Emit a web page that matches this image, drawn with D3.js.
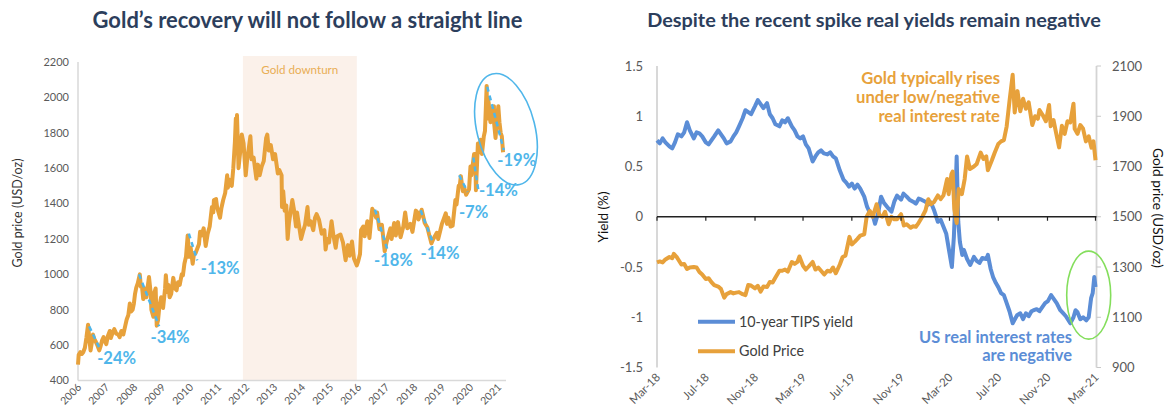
<!DOCTYPE html>
<meta charset="utf-8">
<head>
  <style>
    body { margin:0; background:#fff; }
    svg text { font-family: Lato, "Open Sans", sans-serif; }
  </style>
  <script src="https://d3js.org/d3.v7.min.js"></script>
</head>
<body>
<svg width="1166" height="409"></svg>
<script>
// ---- left chart data: gold price USD/oz ----
var goldLong = [
  ["2006-01-01",490],["2006-01-10",545],["2006-02-01",560],["2006-02-20",550],["2006-03-10",560],["2006-04-01",585],["2006-04-20",640],["2006-05-12",715],["2006-05-25",650],["2006-06-14",570],["2006-07-01",615],["2006-07-15",660],["2006-08-01",635],["2006-08-20",620],["2006-09-10",600],["2006-10-05",570],["2006-10-20",590],["2006-11-10",625],["2006-12-01",645],["2006-12-20",620],
  ["2007-01-05",605],["2007-01-25",650],["2007-02-20",680],["2007-03-05",640],["2007-03-25",665],["2007-04-20",690],["2007-05-15",665],["2007-06-10",660],["2007-06-28",645],["2007-07-20",680],["2007-08-15",660],["2007-09-10",710],["2007-09-28",745],["2007-10-20",770],["2007-11-08",835],["2007-11-25",790],["2007-12-15",800],["2007-12-31",835],
  ["2008-01-15",890],["2008-01-31",925],["2008-02-20",950],["2008-03-17",1000],["2008-03-31",930],["2008-04-15",930],["2008-05-01",860],["2008-05-20",920],["2008-06-10",870],["2008-07-15",985],["2008-08-05",900],["2008-08-15",800],["2008-09-10",760],["2008-09-25",900],["2008-10-10",920],["2008-10-24",710],["2008-11-10",740],["2008-11-28",820],["2008-12-20",870],
  ["2009-01-15",810],["2009-02-10",920],["2009-02-20",995],["2009-03-10",900],["2009-03-25",940],["2009-04-10",870],["2009-05-01",890],["2009-05-28",980],["2009-06-20",920],["2009-07-10",910],["2009-07-28",955],["2009-08-20",940],["2009-09-15",1000],["2009-10-01",995],["2009-10-20",1060],["2009-11-10",1100],["2009-12-02",1220],["2009-12-20",1100],
  ["2010-01-10",1150],["2010-02-05",1060],["2010-02-20",1110],["2010-03-15",1120],["2010-04-10",1150],["2010-04-28",1170],["2010-05-12",1240],["2010-06-01",1220],["2010-06-28",1260],["2010-07-25",1160],["2010-08-20",1230],["2010-09-15",1270],["2010-10-14",1380],["2010-11-01",1350],["2010-11-09",1420],["2010-12-07",1425],["2010-12-20",1380],
  ["2011-01-28",1320],["2011-02-15",1375],["2011-03-10",1420],["2011-04-05",1460],["2011-05-01",1560],["2011-05-10",1490],["2011-06-01",1535],["2011-06-30",1500],["2011-07-20",1600],["2011-08-10",1750],["2011-08-22",1880],["2011-08-26",1700],["2011-09-06",1900],["2011-09-26",1600],["2011-10-15",1680],["2011-11-08",1790],["2011-12-01",1740],["2011-12-29",1560],
  ["2012-01-15",1640],["2012-02-28",1780],["2012-03-15",1650],["2012-04-10",1660],["2012-05-16",1540],["2012-06-05",1620],["2012-06-28",1560],["2012-07-25",1610],["2012-08-20",1640],["2012-09-20",1770],["2012-10-05",1790],["2012-10-25",1700],["2012-11-20",1730],["2012-12-20",1650],
  ["2013-01-15",1680],["2013-02-20",1570],["2013-03-10",1590],["2013-04-10",1560],["2013-04-15",1380],["2013-05-01",1470],["2013-05-20",1360],["2013-06-10",1390],["2013-06-28",1200],["2013-07-15",1290],["2013-08-28",1420],["2013-09-20",1360],["2013-10-15",1270],["2013-10-28",1350],["2013-12-20",1200],
  ["2014-01-20",1250],["2014-02-10",1280],["2014-03-14",1380],["2014-04-01",1280],["2014-04-25",1300],["2014-05-28",1250],["2014-06-20",1320],["2014-07-10",1340],["2014-08-10",1310],["2014-09-15",1230],["2014-10-20",1250],["2014-11-05",1140],["2014-11-25",1200],["2014-12-20",1180],
  ["2015-01-22",1300],["2015-02-15",1220],["2015-03-17",1150],["2015-04-06",1215],["2015-05-18",1225],["2015-06-20",1180],["2015-07-24",1080],["2015-08-24",1165],["2015-09-15",1105],["2015-10-15",1185],["2015-11-10",1090],["2015-12-17",1050],
  ["2016-01-05",1075],["2016-01-28",1115],["2016-02-11",1250],["2016-03-10",1270],["2016-03-28",1215],["2016-05-02",1300],["2016-05-30",1205],["2016-06-24",1320],["2016-07-06",1370],["2016-08-01",1350],["2016-08-25",1320],["2016-09-07",1350],["2016-10-07",1255],["2016-11-08",1280],["2016-12-15",1130],
  ["2017-01-10",1185],["2017-02-27",1260],["2017-03-15",1200],["2017-04-17",1290],["2017-05-09",1220],["2017-06-06",1295],["2017-07-10",1210],["2017-08-15",1270],["2017-09-08",1350],["2017-10-06",1260],["2017-11-15",1285],["2017-12-12",1240],
  ["2018-01-25",1360],["2018-02-15",1350],["2018-03-01",1310],["2018-04-11",1365],["2018-05-21",1290],["2018-06-25",1265],["2018-07-20",1220],["2018-08-16",1175],["2018-09-10",1200],["2018-10-26",1235],["2018-11-13",1200],["2018-12-31",1285],
  ["2019-01-30",1320],["2019-02-20",1345],["2019-03-07",1285],["2019-03-25",1320],["2019-04-23",1270],["2019-05-20",1275],["2019-06-25",1420],["2019-07-10",1395],["2019-08-07",1500],["2019-08-20",1495],["2019-09-04",1555],["2019-10-01",1470],["2019-10-15",1495],["2019-11-12",1450],["2019-12-20",1480],
  ["2020-01-08",1610],["2020-01-20",1560],["2020-02-24",1680],["2020-03-09",1680],["2020-03-19",1475],["2020-04-14",1740],["2020-04-30",1690],["2020-05-18",1760],["2020-06-05",1680],["2020-06-30",1780],["2020-07-15",1810],["2020-07-28",1960],["2020-08-06",2065],["2020-08-11",1880],["2020-08-18",2000],["2020-09-01",1970],["2020-09-24",1860],["2020-10-12",1930],["2020-11-09",1950],["2020-11-10",1860],["2020-11-30",1770],["2020-12-15",1860],["2021-01-05",1950],["2021-01-20",1860],["2021-02-05",1800],["2021-02-20",1780],["2021-03-08",1690]
];
var yearTicks = ["2006","2007","2008","2009","2010","2011","2012","2013","2014","2015","2016","2017","2018","2019","2020","2021"];
var leftTicks = [400, 600, 800, 1000, 1200, 1400, 1600, 1800, 2000, 2200];
var downturn = ["2011-11-22", "2015-12-17"];

// drawdowns (peak -> trough)
var ddLabels = ["-24%","-34%","-13%","-18%","-14%","-7%","-14%","-19%"];
var ddStart  = ["2006-05-27","2008-03-07","2009-12-17","2016-08-10","2018-03-29","2019-08-14","2020-02-14","2020-08-14"];
var ddEnd    = ["2006-10-23","2008-11-24","2010-04-05","2017-01-19","2018-08-25","2019-12-01","2020-04-20","2021-03-18"];
var ddFrom   = [706, 1000, 1230, 1366, 1362, 1560, 1660, 2060];
var ddTo     = [570, 707, 1079, 1140, 1192, 1466, 1475, 1702];

// ---- right chart data ----
var tipsYield = [
  ["2018-03-01",0.76],["2018-03-08",0.73],["2018-03-15",0.78],["2018-03-22",0.74],["2018-04-01",0.70],["2018-04-08",0.68],["2018-04-15",0.74],["2018-04-22",0.82],["2018-05-01",0.80],["2018-05-08",0.84],["2018-05-15",0.94],["2018-05-22",0.86],["2018-06-01",0.78],["2018-06-08",0.84],["2018-06-15",0.83],["2018-06-22",0.80],["2018-07-01",0.74],["2018-07-08",0.72],["2018-07-15",0.76],["2018-07-22",0.80],["2018-08-01",0.86],["2018-08-08",0.82],["2018-08-15",0.78],["2018-08-22",0.73],["2018-09-01",0.75],["2018-09-08",0.80],["2018-09-15",0.84],["2018-09-22",0.90],["2018-10-01",0.98],["2018-10-08",1.06],["2018-10-15",1.04],["2018-10-22",1.02],["2018-11-01",1.10],["2018-11-08",1.16],["2018-11-15",1.12],["2018-11-22",1.08],["2018-12-01",1.13],["2018-12-08",1.02],["2018-12-15",0.98],["2018-12-22",0.92],
  ["2019-01-01",0.90],["2019-01-08",0.96],["2019-01-15",0.94],["2019-01-22",0.98],["2019-02-01",0.90],["2019-02-08",0.86],["2019-02-15",0.80],["2019-02-22",0.78],["2019-03-01",0.80],["2019-03-08",0.72],["2019-03-15",0.68],["2019-03-25",0.55],["2019-04-01",0.60],["2019-04-08",0.64],["2019-04-15",0.66],["2019-04-22",0.63],["2019-05-01",0.62],["2019-05-08",0.64],["2019-05-15",0.60],["2019-05-22",0.58],["2019-06-01",0.46],["2019-06-10",0.37],["2019-06-17",0.34],["2019-06-24",0.30],["2019-07-01",0.33],["2019-07-08",0.28],["2019-07-15",0.32],["2019-07-22",0.28],["2019-08-01",0.20],["2019-08-08",0.10],["2019-08-15",0.04],["2019-08-22",0.02],["2019-08-28",-0.07],["2019-09-05",0.04],["2019-09-12",0.20],["2019-09-19",0.14],["2019-10-01",0.08],["2019-10-08",0.05],["2019-10-15",0.15],["2019-10-22",0.21],["2019-11-01",0.17],["2019-11-07",0.23],["2019-11-15",0.20],["2019-11-22",0.17],["2019-12-01",0.15],["2019-12-08",0.13],["2019-12-15",0.18],["2019-12-22",0.17],
  ["2020-01-01",0.15],["2020-01-08",0.12],["2020-01-15",0.14],["2020-01-22",0.07],["2020-02-01",-0.05],["2020-02-08",-0.03],["2020-02-15",-0.10],["2020-02-22",-0.17],["2020-03-01",-0.36],["2020-03-07",-0.50],["2020-03-12",-0.20],["2020-03-16",0.20],["2020-03-19",0.60],["2020-03-23",-0.05],["2020-03-27",-0.25],["2020-04-02",-0.38],["2020-04-06",-0.33],["2020-04-14",-0.42],["2020-04-22",-0.48],["2020-05-01",-0.40],["2020-05-08",-0.44],["2020-05-15",-0.46],["2020-05-22",-0.41],["2020-06-01",-0.42],["2020-06-05",-0.38],["2020-06-12",-0.52],["2020-06-18",-0.60],["2020-06-25",-0.66],["2020-07-01",-0.70],["2020-07-08",-0.76],["2020-07-15",-0.78],["2020-07-22",-0.86],["2020-07-29",-0.94],["2020-08-06",-1.06],["2020-08-10",-1.03],["2020-08-17",-0.98],["2020-08-25",-0.96],["2020-09-01",-1.02],["2020-09-08",-0.96],["2020-09-15",-0.99],["2020-09-22",-0.94],["2020-09-28",-0.93],["2020-10-05",-0.92],["2020-10-12",-0.94],["2020-10-19",-0.90],["2020-10-26",-0.86],["2020-11-02",-0.84],["2020-11-10",-0.78],["2020-11-17",-0.82],["2020-11-24",-0.86],["2020-12-03",-0.93],["2020-12-10",-0.96],["2020-12-17",-0.99],["2020-12-28",-1.06],
  ["2021-01-05",-1.00],["2021-01-10",-0.93],["2021-01-15",-0.95],["2021-01-22",-1.02],["2021-01-29",-1.00],["2021-02-06",-1.03],["2021-02-12",-1.00],["2021-02-18",-0.81],["2021-02-22",-0.76],["2021-02-26",-0.60],["2021-03-01",-0.70]
];
var goldShort = [
  ["2018-03-01",1318],["2018-03-08",1322],["2018-03-15",1318],["2018-03-22",1330],["2018-04-01",1340],["2018-04-08",1335],["2018-04-12",1352],["2018-04-20",1338],["2018-05-01",1310],["2018-05-08",1312],["2018-05-15",1292],["2018-05-22",1298],["2018-06-01",1300],["2018-06-08",1298],["2018-06-15",1280],["2018-06-22",1270],["2018-07-01",1252],["2018-07-08",1255],["2018-07-15",1240],["2018-07-22",1228],["2018-08-01",1222],["2018-08-08",1212],["2018-08-16",1178],["2018-08-22",1192],["2018-09-01",1200],["2018-09-08",1195],["2018-09-15",1198],["2018-09-22",1200],["2018-10-01",1192],["2018-10-08",1188],["2018-10-15",1228],["2018-10-22",1226],["2018-11-01",1215],["2018-11-08",1225],["2018-11-15",1202],["2018-11-22",1222],["2018-12-01",1220],["2018-12-08",1240],["2018-12-15",1238],["2018-12-22",1258],
  ["2019-01-01",1285],["2019-01-08",1285],["2019-01-15",1290],["2019-01-22",1282],["2019-02-01",1320],["2019-02-08",1312],["2019-02-15",1320],["2019-02-20",1342],["2019-03-01",1305],["2019-03-08",1290],["2019-03-15",1302],["2019-03-25",1320],["2019-04-01",1290],["2019-04-08",1298],["2019-04-15",1285],["2019-04-23",1270],["2019-05-01",1285],["2019-05-08",1282],["2019-05-15",1298],["2019-05-22",1275],["2019-06-01",1310],["2019-06-08",1340],["2019-06-15",1345],["2019-06-25",1420],["2019-07-01",1390],["2019-07-08",1400],["2019-07-15",1412],["2019-07-22",1425],["2019-08-01",1430],["2019-08-07",1500],["2019-08-15",1523],["2019-08-22",1500],["2019-09-01",1550],["2019-09-08",1505],["2019-09-15",1500],["2019-09-22",1520],["2019-10-01",1470],["2019-10-08",1500],["2019-10-15",1490],["2019-10-22",1490],["2019-11-01",1510],["2019-11-08",1465],["2019-11-15",1470],["2019-11-25",1456],["2019-12-01",1462],["2019-12-08",1460],["2019-12-15",1476],["2019-12-24",1500],
  ["2020-01-01",1525],["2020-01-08",1570],["2020-01-15",1550],["2020-01-22",1558],["2020-02-01",1585],["2020-02-08",1570],["2020-02-15",1585],["2020-02-24",1650],["2020-02-28",1590],["2020-03-06",1670],["2020-03-09",1680],["2020-03-13",1530],["2020-03-19",1475],["2020-03-24",1610],["2020-04-01",1590],["2020-04-08",1650],["2020-04-14",1740],["2020-04-21",1690],["2020-05-01",1700],["2020-05-08",1710],["2020-05-18",1755],["2020-05-25",1730],["2020-06-01",1740],["2020-06-05",1685],["2020-06-15",1725],["2020-06-22",1755],["2020-07-01",1790],["2020-07-08",1800],["2020-07-15",1805],["2020-07-22",1860],["2020-07-29",1960],["2020-08-06",2065],["2020-08-11",1915],["2020-08-18",2000],["2020-08-25",1920],["2020-09-01",1970],["2020-09-08",1930],["2020-09-15",1955],["2020-09-24",1865],["2020-10-01",1900],["2020-10-08",1890],["2020-10-12",1925],["2020-10-20",1905],["2020-10-28",1880],["2020-11-05",1945],["2020-11-09",1860],["2020-11-16",1885],["2020-11-23",1830],["2020-11-30",1776],["2020-12-07",1862],["2020-12-14",1830],["2020-12-21",1880],["2020-12-28",1875],
  ["2021-01-05",1950],["2021-01-08",1850],["2021-01-15",1830],["2021-01-22",1865],["2021-01-29",1850],["2021-02-05",1800],["2021-02-12",1820],["2021-02-19",1775],["2021-02-24",1800],["2021-03-01",1725]
];
var monthTicks = ["2018-03-01","2018-07-01","2018-11-01","2019-03-01","2019-07-01","2019-11-01","2020-03-01","2020-07-01","2020-11-01","2021-03-01"];
var yieldTicks = [-1.5, -1, -0.5, 0, 0.5, 1, 1.5];
var priceTicks = [900, 1100, 1300, 1500, 1700, 1900, 2100];
var seriesNames = ["10-year TIPS yield", "Gold Price"];

var GOLD = "#e7a13b", BLUE = "#5b8dd6", SKY = "#4fb6ea", GREY = "#595959";

var svg = d3.select("svg")
var parse = d3.timeParse("%Y-%m-%d");
var fmtMonth = d3.timeFormat("%b-%y");

// size a font so a string comes out at the wanted width
function fitSize(str, weight, target) {
  var t = svg.append("text").attr("font-size", 20).attr("font-weight", weight).text(str);
  var s = 20 * target / t.node().getComputedTextLength();
  t.remove();
  return s;
}

// ================= left chart =================
var xL = d3.scaleTime().domain([parse("2006-01-01"), parse("2021-01-01")]).range([78, 498]);
var yL = d3.scaleLinear().domain([400, 2200]).range([380.5, 62]);
var left = svg.append("g");

left.append("rect")
  .attr("x", xL(parse(downturn[0])))
  .attr("y", 56)
  .attr("width", xL(parse(downturn[1])) - xL(parse(downturn[0])))
  .attr("height", yL(400) - 56)
  .attr("fill", "#fbf1ea");

left.append("text")
  .attr("x", (xL(parse(downturn[0])) + xL(parse(downturn[1]))) / 2)
  .attr("y", 70).attr("dy", "0.35em")
  .attr("text-anchor", "middle")
  .attr("font-size", fitSize("Gold downturn", "normal", 77))
  .attr("fill", "#e9ae55")
  .text("Gold downturn");

left.append("line").attr("x1", 78).attr("x2", 78).attr("y1", 62).attr("y2", yL(400))
  .attr("stroke", "#d9d9d9").attr("stroke-width", 1.5);
left.append("line").attr("x1", 78).attr("x2", 506).attr("y1", yL(400)).attr("y2", yL(400))
  .attr("stroke", "#d9d9d9").attr("stroke-width", 1.5);

left.selectAll(".yt").data(leftTicks).enter().append("text")
  .attr("x", 69).attr("y", function (d) { return yL(d) }).attr("dy", "0.35em")
  .attr("text-anchor", "end").attr("font-size", 11).attr("fill", GREY)
  .text(function (d) { return d });

left.selectAll(".xt").data(yearTicks).enter().append("text")
  .attr("transform", function (d) { return "translate(" + (xL(parse(d + "-01-01")) + 4) + "," + 388 + ") rotate(-45)" })
  .attr("text-anchor", "end").attr("font-size", 10.5).attr("fill", GREY)
  .text(function (d) { return d });

left.append("text")
  .attr("transform", "translate(18,213) rotate(-90)")
  .attr("dy", "0.35em").attr("text-anchor", "middle")
  .attr("font-size", fitSize("Gold price (USD/oz)", "normal", 109))
  .attr("fill", "#333").text("Gold price (USD/oz)");

var lineL = d3.line()
  .x(function (d) { return xL(parse(d[0])) })
  .y(function (d) { return yL(d[1]) });

left.append("path").datum(goldLong)
  .attr("d", lineL).attr("fill", "none")
  .attr("stroke", GOLD).attr("stroke-width", 4).attr("stroke-linejoin", "round");

var ddOffset = [[16, 8], [11, 11], [23, 8], [6, 11], [8, 13], [6, 20], [20, 0], [13, 10]];
var ddSize = fitSize("-18%", "bold", 39);
ddLabels.forEach(function (lab, i) {
  var x1 = xL(parse(ddStart[i])), y1 = yL(ddFrom[i]);
  var x2 = xL(parse(ddEnd[i])), y2 = yL(ddTo[i]);
  left.append("line").attr("x1", x1).attr("y1", y1).attr("x2", x2).attr("y2", y2)
    .attr("stroke", SKY).attr("stroke-width", 2.5).attr("stroke-dasharray", "5,4");
  left.append("text")
    .attr("x", x2 + ddOffset[i][0]).attr("y", y2 + ddOffset[i][1]).attr("dy", "0.35em")
    .attr("text-anchor", "middle").attr("font-weight", "bold")
    .attr("font-size", ddSize).attr("fill", SKY).text(lab);
});

left.append("ellipse")
  .attr("transform", "translate(" + xL(parse("2021-04-15")) + "," + yL(1820) + ") rotate(-14)")
  .attr("rx", 29).attr("ry", 57)
  .attr("fill", "none").attr("stroke", SKY).attr("stroke-width", 1.6);

var titleL = "Gold\u2019s recovery will not follow a straight line";
svg.append("text").attr("x", 307.5).attr("y", 20).attr("dy", "0.35em")
  .attr("text-anchor", "middle").attr("font-weight", "bold")
  .attr("font-size", fitSize(titleL, "bold", 430))
  .attr("fill", "#2c3e5c").text(titleL);

// ================= right chart =================
var xR = d3.scaleTime().domain([parse("2018-03-01"), parse("2021-03-01")]).range([657, 1095.5]);
var yY = d3.scaleLinear().domain([-1.5, 1.5]).range([367.5, 66]);
var yP = d3.scaleLinear().domain([900, 2100]).range([367.5, 66]);
var right = svg.append("g");

right.append("line").attr("x1", 657).attr("x2", 657).attr("y1", 66).attr("y2", 367.5)
  .attr("stroke", "#d4d4d4").attr("stroke-width", 1.8);
right.append("line").attr("x1", 1096.5).attr("x2", 1096.5).attr("y1", 66).attr("y2", 367.5)
  .attr("stroke", "#d4d4d4").attr("stroke-width", 1.8);

right.selectAll(".rt").data(priceTicks).enter().append("line")
  .attr("x1", 1096.5).attr("x2", 1101).attr("y1", function (d) { return yP(d) }).attr("y2", function (d) { return yP(d) })
  .attr("stroke", "#c8c8c8").attr("stroke-width", 1);

right.selectAll(".ytl").data(yieldTicks).enter().append("text")
  .attr("x", 643).attr("y", function (d) { return yY(d) }).attr("dy", "0.35em")
  .attr("text-anchor", "end").attr("font-size", 13).attr("fill", GREY)
  .text(function (d) { return String(d) });

right.selectAll(".ptl").data(priceTicks).enter().append("text")
  .attr("x", 1112).attr("y", function (d) { return yP(d) }).attr("dy", "0.35em")
  .attr("text-anchor", "start").attr("font-size", 13).attr("fill", GREY)
  .text(function (d) { return d });

right.selectAll(".mtl").data(monthTicks).enter().append("text")
  .attr("transform", function (d) { return "translate(" + (xR(parse(d)) + 4) + "," + 378 + ") rotate(-45)" })
  .attr("text-anchor", "end").attr("font-size", 11.5).attr("fill", GREY)
  .text(function (d) { return fmtMonth(parse(d)) });

right.append("text")
  .attr("transform", "translate(603,217) rotate(-90)")
  .attr("dy", "0.35em").attr("text-anchor", "middle")
  .attr("font-size", 13.5)
  .attr("fill", "#111").text("Yield (%)");

right.append("text")
  .attr("transform", "translate(1158,208) rotate(90)")
  .attr("dy", "0.35em").attr("text-anchor", "middle")
  .attr("font-size", fitSize("Gold price (USD/oz)", "normal", 120))
  .attr("fill", "#111").text("Gold price (USD/oz)");

var lineY = d3.line().x(function (d) { return xR(parse(d[0])) }).y(function (d) { return yY(d[1]) });
var lineP = d3.line().x(function (d) { return xR(parse(d[0])) }).y(function (d) { return yP(d[1]) });

right.append("path").datum(tipsYield).attr("d", lineY).attr("fill", "none")
  .attr("stroke", BLUE).attr("stroke-width", 4).attr("stroke-linejoin", "round");
right.append("path").datum(goldShort).attr("d", lineP).attr("fill", "none")
  .attr("stroke", GOLD).attr("stroke-width", 4).attr("stroke-linejoin", "round");

// zero line with month ticks
right.append("line").attr("x1", 657).attr("x2", 1096.5).attr("y1", yY(0)).attr("y2", yY(0))
  .attr("stroke", "#222").attr("stroke-width", 1.3);
right.selectAll(".mt").data(monthTicks).enter().append("line")
  .attr("x1", function (d) { return xR(parse(d)) }).attr("x2", function (d) { return xR(parse(d)) })
  .attr("y1", yY(0)).attr("y2", yY(0) + 4)
  .attr("stroke", "#222").attr("stroke-width", 1.2);

// legend
var legSize = fitSize(seriesNames[0], "normal", 114);
[BLUE, GOLD].forEach(function (c, i) {
  var y = 321.7 + i * 29.5;
  right.append("line").attr("x1", 698).attr("x2", 735).attr("y1", y).attr("y2", y)
    .attr("stroke", c).attr("stroke-width", 4);
  right.append("text").attr("x", 739).attr("y", y).attr("dy", "0.35em")
    .attr("font-size", legSize).attr("fill", "#404040").text(seriesNames[i]);
});

// notes
var goldNote = ["Gold typically rises", "under low/negative", "real interest rate"];
var gSize = fitSize(goldNote[1], "bold", 144);
goldNote.forEach(function (s, i) {
  right.append("text").attr("x", 1000).attr("y", 78.5 + i * 19).attr("dy", "0.35em")
    .attr("text-anchor", "end").attr("font-weight", "bold")
    .attr("font-size", gSize).attr("fill", GOLD).text(s);
});
var usNote = ["US real interest rates", "are negative"];
var uSize = fitSize(usNote[0], "bold", 153);
usNote.forEach(function (s, i) {
  right.append("text").attr("x", 1072).attr("y", 337 + i * 18.5).attr("dy", "0.35em")
    .attr("text-anchor", "end").attr("font-weight", "bold")
    .attr("font-size", uSize).attr("fill", BLUE).text(s);
});

right.append("ellipse")
  .attr("cx", xR(parse("2021-02-12"))).attr("cy", yY(-0.78))
  .attr("rx", 22).attr("ry", 44)
  .attr("fill", "none").attr("stroke", "#84de5c").attr("stroke-width", 1.6);

var titleR = "Despite the recent spike real yields remain negative";
svg.append("text").attr("x", 874).attr("y", 20).attr("dy", "0.35em")
  .attr("text-anchor", "middle").attr("font-weight", "bold")
  .attr("font-size", fitSize(titleR, "bold", 454))
  .attr("fill", "#2c3e5c").text(titleR);
</script>
</body>
